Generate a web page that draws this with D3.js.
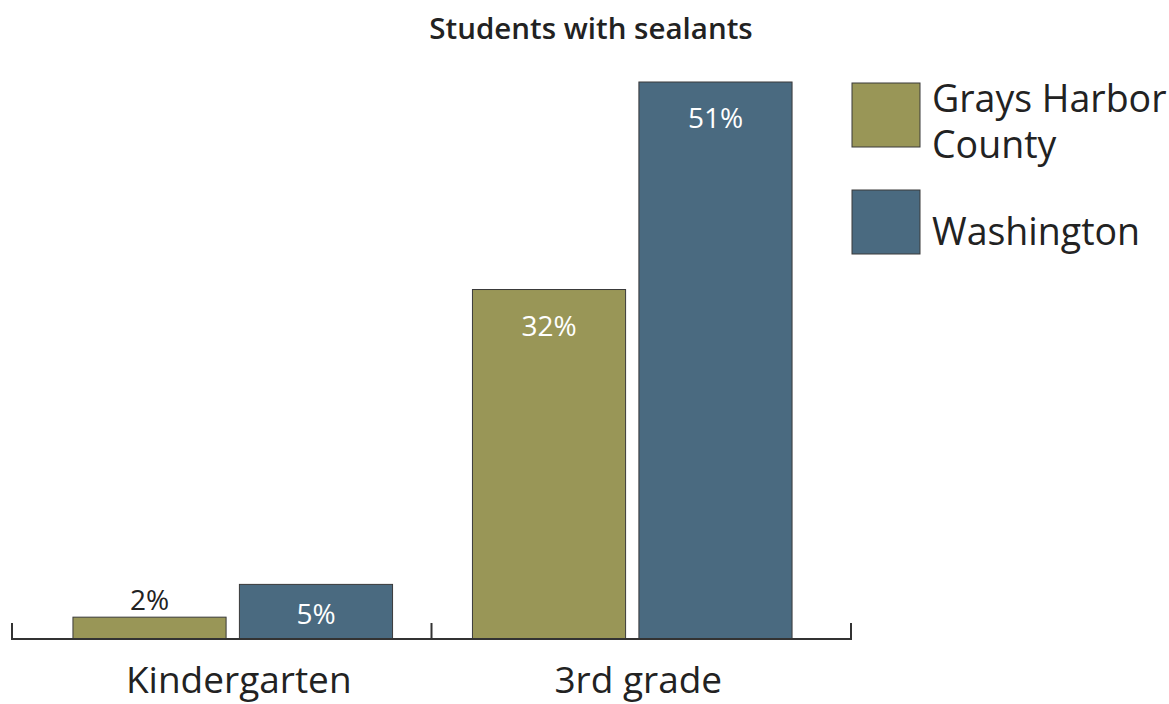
<!DOCTYPE html>
<html>
<head>
<meta charset="utf-8">
<script src="https://cdn.jsdelivr.net/npm/d3@7"></script>
<style>
  html, body { margin: 0; padding: 0; background: #fff; }
  svg { display: block; font-family: "Open Sans", "Noto Sans", sans-serif; }
</style>
</head>
<body>
<svg id="chart" width="1169" height="704"></svg>
<script>
// Share of students with dental sealants
const grades = ["Kindergarten", "3rd grade"];
const regions = ["Grays Harbor County", "Washington"];
const graysHarbor = [2, 32];
const washington = [5, 51];
const legendLines = [["Grays Harbor", "County"], ["Washington"]];
const colors = ["#999657", "#4a6a80"];
const title = "Students with sealants";

const rows = grades.map((g, i) => ({ grade: g, values: [graysHarbor[i], washington[i]] }));

const svg = d3.select("#chart");

// Axis frame: band boundaries carry the tick marks
const xAxis = d3.scaleBand().domain(grades).range([12, 851]);
// Bar groups within the frame
const x0 = d3.scaleBand().domain(grades).range([33, 832]).paddingInner(0.2).paddingOuter(0.1);
const x1 = d3.scaleBand().domain(regions).range([0, x0.bandwidth()]).paddingInner(0.08);
const y = d3.scaleLinear().domain([0, 51]).range([639, 82]);

svg.append("text")
  .attr("x", 591).attr("y", 39)
  .attr("text-anchor", "middle")
  .attr("font-size", 29.5).attr("font-weight", 600).attr("fill", "#222")
  .text(title);

const groups = svg.selectAll("g.grade").data(rows).join("g")
  .attr("class", "grade")
  .attr("transform", d => `translate(${x0(d.grade)},0)`);

const cells = groups.selectAll("g.bar")
  .data(d => d.values.map((v, i) => ({ region: regions[i], value: v, idx: i })))
  .join("g").attr("class", "bar");

cells.append("rect")
  .attr("x", d => x1(d.region))
  .attr("width", x1.bandwidth())
  .attr("y", d => y(d.value))
  .attr("height", d => y(0) - y(d.value))
  .attr("fill", d => colors[d.idx])
  .attr("stroke", "#3a3a3a").attr("stroke-width", 1);

// Value labels: inside the bar when it is tall enough, above it otherwise
const inside = d => y(0) - y(d.value) > 40;
cells.append("text")
  .attr("x", d => x1(d.region) + x1.bandwidth() / 2)
  .attr("y", d => {
    const h = y(0) - y(d.value);
    return inside(d) ? y(d.value) + Math.min(46, h * 0.72) : y(d.value) - 7;
  })
  .attr("text-anchor", "middle")
  .attr("font-size", 28)
  .attr("fill", d => (inside(d) ? "#fff" : "#222"))
  .text(d => d.value + "%");

// Baseline with upward ticks at the band boundaries
const axisG = svg.append("g");
axisG.append("line")
  .attr("x1", xAxis.range()[0]).attr("x2", xAxis.range()[1])
  .attr("y1", y(0)).attr("y2", y(0))
  .attr("stroke", "#333").attr("stroke-width", 2);
const tickXs = grades.map(g => xAxis(g)).concat([xAxis.range()[1]]);
axisG.selectAll("line.tick").data(tickXs).join("line")
  .attr("class", "tick")
  .attr("x1", d => d).attr("x2", d => d)
  .attr("y1", y(0) - 16).attr("y2", y(0) + 1)
  .attr("stroke", "#333").attr("stroke-width", 2);

svg.selectAll("text.cat").data(grades).join("text")
  .attr("class", "cat")
  .attr("x", g => x0(g) + x0.bandwidth() / 2 + 6)
  .attr("y", 693)
  .attr("text-anchor", "middle")
  .attr("font-size", 37).attr("fill", "#222")
  .text(g => g);

// Legend
const legend = svg.append("g");
const legY = [83, 190];
regions.forEach((r, i) => {
  legend.append("rect")
    .attr("x", 852).attr("y", legY[i])
    .attr("width", 68).attr("height", 64)
    .attr("fill", colors[i])
    .attr("stroke", "#3a3a3a").attr("stroke-width", 1);
  const t = legend.append("text")
    .attr("x", 932)
    .attr("font-size", 37.5).attr("fill", "#222");
  const lines = legendLines[i];
  const firstBase = lines.length > 1 ? legY[i] + 29 : legY[i] + 55;
  lines.forEach((ln, j) => {
    t.append("tspan").attr("x", 932).attr("y", firstBase + j * 46).text(ln);
  });
});
</script>
</body>
</html>
